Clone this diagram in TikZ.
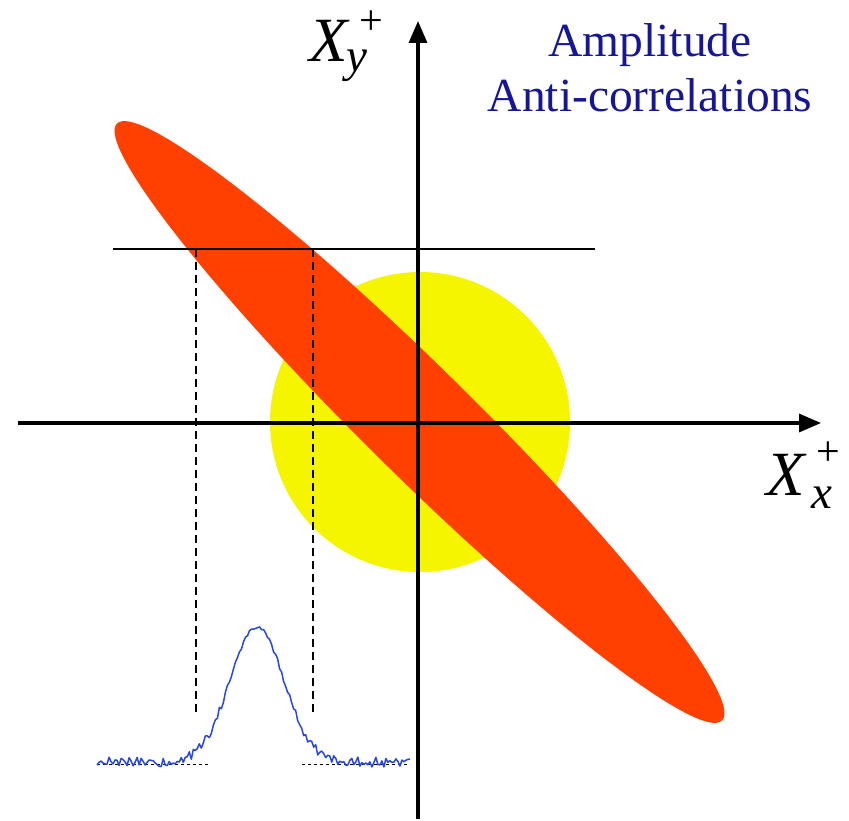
\documentclass[tikz,border=0pt]{standalone}
\usepackage{fontspec}
\setmainfont{Liberation Serif}
\usetikzlibrary{arrows.meta}
\definecolor{squeezered}{RGB}{255,64,0}
\definecolor{vacyellow}{RGB}{245,245,0}
\definecolor{titleblue}{RGB}{22,22,150}
\definecolor{traceblue}{RGB}{40,70,230}
\begin{document}
\begin{tikzpicture}[x=1pt,y=-1pt,
  axis/.style={line width=3.3pt,-{Triangle[length=22pt,width=18pt]}},
  cutline/.style={line width=1.8pt},
  projline/.style={line width=1.8pt,dash pattern=on 8pt off 5pt},
  baseline/.style={line width=0.8pt,dash pattern=on 3pt off 3pt},
  trace/.style={traceblue,line width=1.5pt,line join=round},
  titletext/.style={titleblue,inner sep=0pt,anchor=base,font=\fontsize{47.5}{55}\selectfont},
  bigx/.style={inner sep=0pt,anchor=base west,font=\fontsize{63}{63}\selectfont\itshape},
  subx/.style={inner sep=0pt,anchor=base west,font=\fontsize{47}{47}\selectfont\itshape},
  supplus/.style={inner sep=0pt,anchor=center,font=\fontsize{42}{42}\selectfont}]
\useasboundingbox (0,0) rectangle (849,821);
% vacuum circle
\fill[vacyellow] (420,422) circle[radius=150pt];
% squeezed ellipse
\fill[squeezered,shift={(419.5,422)},rotate=-44.6] (0,0) ellipse[x radius=425pt,y radius=54pt];
% horizontal cut line
\coordinate (cutL) at (113,249);
\coordinate (cutR) at (595,249);
\draw[cutline] (cutL) -- (cutR);
% projection lines
\coordinate (p1t) at (196,249);
\coordinate (p1b) at (196,715);
\coordinate (p2t) at (313,249);
\coordinate (p2b) at (313,715);
\draw[projline] (p1t) -- (p1b);
\draw[projline] (p2t) -- (p2b);
% axes
\coordinate (xs) at (18,423);
\coordinate (xe) at (821,423);
\coordinate (ys) at (418,819);
\coordinate (ye) at (418,21);
\draw[axis] (xs) -- (xe);
\draw[axis] (ys) -- (ye);
% measured trace
\coordinate (b1s) at (97,764);
\coordinate (b1e) at (208,764);
\coordinate (b2s) at (302,764);
\coordinate (b2e) at (410,764);
\draw[baseline] (b1s) -- (b1e);
\draw[baseline] (b2s) -- (b2e);
\pgfmathsetseed{4242}
\draw[trace] plot[domain=97:410,samples=157,variable=\t]
  ({\t},{762 - 135*exp(-0.5*((\t-257)/27)^2) + (1.5+3.5*(1-exp(-0.5*((\t-257)/27)^2)))*rand});
% axis labels
\node[bigx] (xy) at (309,62) {X};
\node[subx] (xysub) at (346,72) {y};
\node[supplus] (xysup) at (371,23) {+};
\node[bigx] (xx) at (766,495) {X};
\node[subx] (xxsub) at (811,508) {x};
\node[supplus] (xxsup) at (828,454) {+};
% title
\node[titletext] (t1) at (650,57) {Amplitude};
\node[titletext] (t2) at (650,112) {Anti-correlations};
\end{tikzpicture}
\end{document}
